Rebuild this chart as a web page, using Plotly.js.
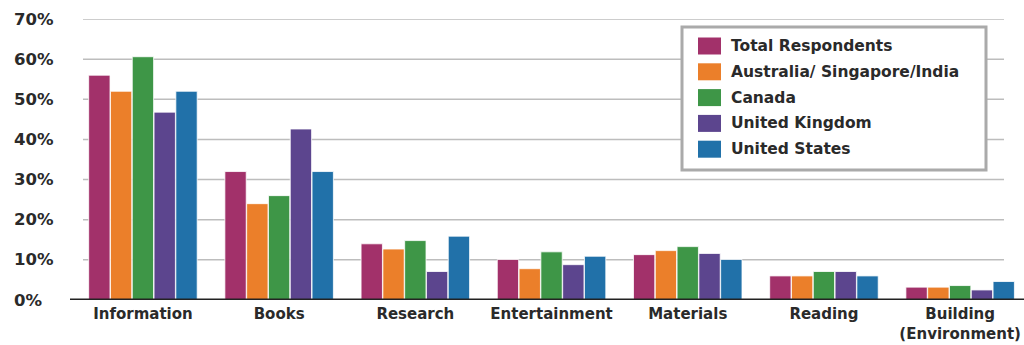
<!DOCTYPE html>
<html>
<head>
<meta charset="utf-8">
<script src="https://cdn.plot.ly/plotly-3.0.1.min.js"></script>
<style>html,body{margin:0;padding:0;background:#fff;}#chart{width:1024px;height:345px;}</style>
</head>
<body>
<div id="chart"></div>
<script>
const categories = ["Information", "Books", "Research", "Entertainment", "Materials", "Reading", "Building<br>(Environment)"];
const seriesNames = ["Total Respondents", "Australia/ Singapore/India", "Canada", "United Kingdom", "United States"];
const totalRespondents = [56, 32, 14, 10.1, 11.3, 6, 3.2];
const ausSingIndia = [52, 24, 12.7, 7.8, 12.3, 6, 3.2];
const canada = [60.6, 26, 14.8, 12, 13.3, 7.1, 3.6];
const unitedKingdom = [46.8, 42.6, 7.1, 8.8, 11.6, 7.1, 2.5];
const unitedStates = [52, 32, 15.9, 10.9, 10.1, 6, 4.6];
const yTickValues = [0, 10, 20, 30, 40, 50, 60, 70];
const yTickLabels = ["0%", "10%", "20%", "30%", "40%", "50%", "60%", "70%"];

const colors = ["#A2316A", "#EB7F2A", "#3E9647", "#5C458E", "#2171A9"];
const seriesValues = [totalRespondents, ausSingIndia, canada, unitedKingdom, unitedStates];
const FONT = "DejaVu Sans, sans-serif";

// plot-area geometry (pixels) used to place the hand-made legend and gridlines
const W = 1024, H = 345, ML = 83, MR = 8, MT = 19, MB = 45;
const PW = W - ML - MR, PH = H - MT - MB;
const px = x => (x - ML) / PW;
const py = y => 1 - (y - MT) / PH;

const traces = seriesValues.map((vals, i) => ({
  type: "bar",
  name: seriesNames[i],
  x: categories,
  y: vals,
  marker: {color: colors[i], line: {color: "#ffffff", width: 0.8}},
  hoverinfo: "none",
  showlegend: false
}));

const annotations = yTickValues.map((v, i) => ({
  xref: "paper", yref: "y", x: px(12), y: v,
  xanchor: "left", yanchor: "middle",
  text: yTickLabels[i], showarrow: false,
  font: {family: FONT, size: 16.5, color: "#2a2a2a", weight: 700}
}));

const shapes = [];
yTickValues.filter(v => v > 0).forEach(v => {
  shapes.push({
    type: "line", xref: "paper", yref: "y", layer: "below",
    x0: px(83), x1: px(1004), y0: v, y1: v,
    line: {color: "#bdbdbd", width: 1.5}
  });
});
shapes.push({
  type: "line", xref: "paper", yref: "y",
  x0: px(70), x1: px(1030), y0: 0, y1: 0,
  line: {color: "#222222", width: 3}
});
shapes.push({
  type: "rect", xref: "paper", yref: "paper",
  x0: px(682), x1: px(986), y0: py(27), y1: py(170),
  fillcolor: "#ffffff", line: {color: "#aaaaaa", width: 3}
});

const rowY0 = 46, rowStep = 25.8;
seriesNames.forEach((name, i) => {
  const cy = rowY0 + i * rowStep;
  shapes.push({
    type: "rect", xref: "paper", yref: "paper",
    x0: px(698), x1: px(721), y0: py(cy - 8.5), y1: py(cy + 8.5),
    fillcolor: colors[i], line: {width: 0}
  });
  annotations.push({
    xref: "paper", yref: "paper", x: px(729), y: py(cy),
    xanchor: "left", yanchor: "middle", showarrow: false,
    text: name,
    font: {family: FONT, size: 15.5, color: "#2a2a2a", weight: 700}
  });
});

const layout = {
  width: W, height: H,
  margin: {l: ML, r: MR, t: MT, b: MB},
  paper_bgcolor: "#ffffff", plot_bgcolor: "#ffffff",
  barmode: "group", bargap: 0.2, bargroupgap: 0.02,
  showlegend: false,
  xaxis: {
    type: "category", range: [-0.44, 6.41],
    showgrid: false, zeroline: false, showline: false,
    ticks: "", ticklabelstandoff: 3,
    tickfont: {family: FONT, size: 15, color: "#2a2a2a", weight: 700},
    fixedrange: true
  },
  yaxis: {
    range: [0, 70], tickvals: yTickValues, showticklabels: false,
    showgrid: false, zeroline: false, showline: false, ticks: "", fixedrange: true
  },
  shapes: shapes,
  annotations: annotations
};

Plotly.newPlot("chart", traces, layout, {displayModeBar: false, staticPlot: true});
</script>
</body>
</html>
